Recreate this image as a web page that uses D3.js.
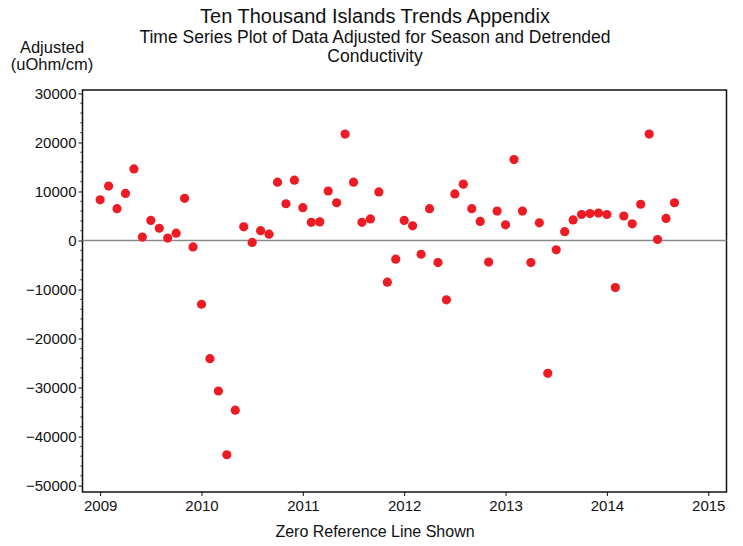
<!DOCTYPE html>
<html><head><meta charset="utf-8">
<script src="https://cdn.jsdelivr.net/npm/d3@7"></script>
<style>body{margin:0;background:#fff}text{font-family:"Liberation Sans",Arial,sans-serif;fill:#111}</style>
</head><body><svg id="c" width="743" height="546"></svg>
<script>
const titleLines = ["Ten Thousand Islands Trends Appendix"];
const subtitleLines = ["Time Series Plot of Data Adjusted for Season and Detrended", "Conductivity"];
const yLabelLines = ["Adjusted", "(uOhm/cm)"];
const xLabel = "Zero Reference Line Shown";
const xTicks = [2009, 2010, 2011, 2012, 2013, 2014, 2015];
const yTicks = [30000, 20000, 10000, 0, -10000, -20000, -30000, -40000, -50000];
const startYear = 2009; // monthly samples starting Jan 2009
const values = [8300, 11100, 6500, 9600, 14600, 700, 4100, 2500, 500, 1500, 8600, -1300,
  -13000, -24100, -30700, -43700, -34600, 2800, -400, 2000, 1300, 11900, 7500, 12300,
  6700, 3700, 3800, 10100, 7700, 21700, 11900, 3700, 4400, 9900, -8500, -3800,
  4100, 3000, -2800, 6500, -4500, -12100, 9500, 11500, 6500, 3900, -4400, 6000,
  3200, 16500, 6000, -4500, 3600, -27100, -1900, 1800, 4200, 5300, 5500, 5600,
  5300, -9600, 5000, 3400, 7400, 21700, 200, 4500, 7700];
const data = values.map((v, i) => ({t: startYear + i / 12, v}));

const svg = d3.select("#c");
const L = 82.5, R = 726.5, T = 90, B = 492;
const x = d3.scaleLinear().domain([2008.826, 2015.18]).range([L, R]);
const y = d3.scaleLinear().domain([30700, -51300]).range([T, B]);

// titles
svg.append("text").attr("x", 375).attr("y", 23).attr("text-anchor", "middle")
  .style("font-size", "20px").text(titleLines[0]);
subtitleLines.forEach((s, i) => svg.append("text").attr("x", 375).attr("y", 43 + i * 18.5)
  .attr("text-anchor", "middle").style("font-size", "17.5px").text(s));
yLabelLines.forEach((s, i) => svg.append("text").attr("x", 52).attr("y", 53 + i * 17)
  .attr("text-anchor", "middle").style("font-size", "16.5px").text(s));
svg.append("text").attr("x", 375).attr("y", 537).attr("text-anchor", "middle")
  .style("font-size", "16px").text(xLabel);

// y minor ticks
const minor = d3.range(-50000, 30001, 2000).filter(v => v % 10000 !== 0);
svg.append("g").selectAll("line").data(minor).join("line")
  .attr("x1", L - 2).attr("x2", L).attr("y1", d => y(d)).attr("y2", d => y(d))
  .attr("stroke", "#111").attr("stroke-width", 1);

// axes
const yAxis = d3.axisLeft(y).tickValues(yTicks).tickSize(4).tickPadding(2).tickFormat(d3.format("d"));
const gy = svg.append("g").attr("transform", `translate(${L},0)`).call(yAxis);
gy.select(".domain").remove();
gy.selectAll("text").style("font-size", "15px").style("font-family", '"Liberation Sans",Arial,sans-serif').attr("fill", "#111");
gy.selectAll("line").attr("stroke", "#111");

const xAxis = d3.axisBottom(x).tickValues(xTicks).tickSize(4).tickPadding(4).tickFormat(d3.format("d"));
const gx = svg.append("g").attr("transform", `translate(0,${B})`).call(xAxis);
gx.select(".domain").remove();
gx.selectAll("text").style("font-size", "15px").style("font-family", '"Liberation Sans",Arial,sans-serif').attr("fill", "#111");
gx.selectAll("line").attr("stroke", "#111");

// frame
svg.append("rect").attr("x", L).attr("y", T).attr("width", R - L).attr("height", B - T)
  .attr("fill", "none").attr("stroke", "#111").attr("stroke-width", 1.5);

// zero line
svg.append("line").attr("x1", L).attr("x2", R).attr("y1", y(0)).attr("y2", y(0))
  .attr("stroke", "#8a8a8a").attr("stroke-width", 1.5);

// points
svg.append("g").selectAll("circle").data(data).join("circle")
  .attr("cx", d => x(d.t)).attr("cy", d => y(d.v)).attr("r", 4.6)
  .attr("fill", "#ed1c24");
</script></body></html>
